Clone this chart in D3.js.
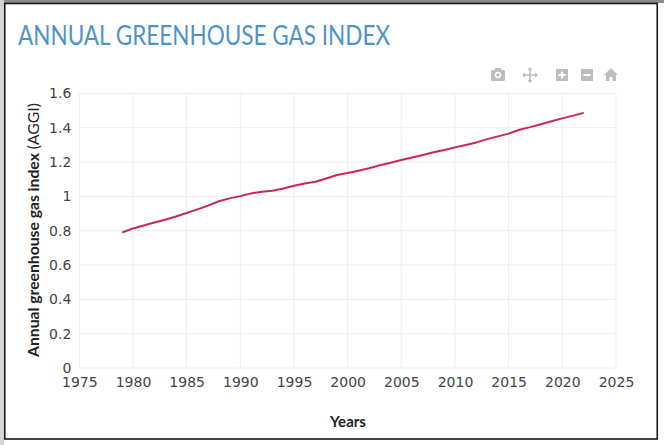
<!DOCTYPE html>
<html>
<head>
<meta charset="utf-8">
<script src="https://cdn.jsdelivr.net/npm/d3@7"></script>
<style>
  body { margin: 0; background: #fff; }
  svg { display: block; }
</style>
</head>
<body>
<svg id="chart" width="664" height="445"></svg>
<script>
// AGGI values
var years = [1979, 1980, 1981, 1982, 1983, 1984, 1985, 1986, 1987, 1988, 1989,
             1990, 1991, 1992, 1993, 1994, 1995, 1996, 1997, 1998, 1999,
             2000, 2001, 2002, 2003, 2004, 2005, 2006, 2007, 2008, 2009,
             2010, 2011, 2012, 2013, 2014, 2015, 2016, 2017, 2018, 2019,
             2020, 2021, 2022];
var aggi = [0.789, 0.813, 0.830, 0.847, 0.864, 0.882, 0.903, 0.924, 0.946, 0.971, 0.988,
            1.001, 1.017, 1.027, 1.033, 1.046, 1.061, 1.075, 1.085, 1.104, 1.124,
            1.136, 1.149, 1.163, 1.181, 1.196, 1.211, 1.226, 1.241, 1.257, 1.270,
            1.285, 1.299, 1.314, 1.333, 1.349, 1.365, 1.388, 1.403, 1.420, 1.437,
            1.454, 1.470, 1.486];
var xTicks = [1975, 1980, 1985, 1990, 1995, 2000, 2005, 2010, 2015, 2020, 2025];
var yTicks = [0, 0.2, 0.4, 0.6, 0.8, 1, 1.2, 1.4, 1.6];

var title = "ANNUAL GREENHOUSE GAS INDEX";
var xTitle = "Years";
var yTitleBold = "Annual greenhouse gas index";
var yTitleRest = " (AGGI)";

var svg = d3.select("#chart");
var tickFont = "'DejaVu Sans', Verdana, sans-serif";
var labelFont = "Lato, 'Open Sans', sans-serif";

// frame round the picture
svg.append("rect").attr("x", 0).attr("y", 0).attr("width", 664).attr("height", 3).style("fill", "#8c8c8c");
svg.append("rect").attr("x", 0).attr("y", 0).attr("width", 4).attr("height", 445).style("fill", "#d6d6d6");
svg.append("rect")
  .attr("x", 4.75).attr("y", 3.5)
  .attr("width", 652.5).attr("height", 435.5)
  .style("fill", "#fff")
  .style("stroke", "#1a1a1a")
  .style("stroke-width", 1.6);

var titleText = svg.append("text")
  .attr("x", 18).attr("y", 45)
  .style("font-family", labelFont)
  .style("font-size", "26px")
  .style("fill", "#4f94c8")
  .text(title);
titleText.attr("textLength", 372).attr("lengthAdjust", "spacingAndGlyphs");

var x = d3.scaleLinear().domain([1975, 2025]).range([79.3, 616]);
var y = d3.scaleLinear().domain([0, 1.6]).range([368, 93.3]);

// grid
var grid = svg.append("g");
grid.selectAll(".vgrid").data(xTicks).enter().append("line")
  .attr("x1", function (d) { return x(d); })
  .attr("x2", function (d) { return x(d); })
  .attr("y1", y(0)).attr("y2", y(1.6))
  .style("stroke", "#eeeeee").style("stroke-width", 1);
grid.selectAll(".hgrid").data(yTicks).enter().append("line")
  .attr("x1", x(1975)).attr("x2", x(2025))
  .attr("y1", function (d) { return y(d); })
  .attr("y2", function (d) { return y(d); })
  .style("stroke", "#eeeeee").style("stroke-width", 1);

// axes, only the labels are kept
var xAxis = svg.append("g")
  .attr("transform", "translate(0," + y(0) + ")")
  .call(d3.axisBottom(x).tickValues(xTicks).tickFormat(d3.format("d")).tickSize(0).tickPadding(9));
var yAxis = svg.append("g")
  .attr("transform", "translate(" + x(1975) + ",0)")
  .call(d3.axisLeft(y).tickValues(yTicks).tickFormat(function (d) { return String(d); }).tickSize(0).tickPadding(8));

[xAxis, yAxis].forEach(function (a) {
  a.select(".domain").remove();
  a.selectAll("text")
    .style("font-family", tickFont)
    .style("font-size", "14px")
    .style("fill", "#444");
});
yAxis.selectAll("text").attr("dy", "0.32em");

// series
var line = d3.line()
  .x(function (d, i) { return x(years[i]); })
  .y(function (d) { return y(d); });

svg.append("path")
  .datum(aggi)
  .attr("d", line)
  .style("fill", "none")
  .style("stroke", "#c8265c")
  .style("stroke-width", 2)
  .style("stroke-linejoin", "round");

// axis titles
svg.append("text")
  .attr("x", 348).attr("y", 427)
  .attr("text-anchor", "middle")
  .style("font-family", labelFont)
  .style("font-size", "15px")
  .style("font-weight", "bold")
  .style("fill", "#222")
  .text(xTitle);

var yt = svg.append("text")
  .attr("transform", "translate(39,230) rotate(-90)")
  .attr("text-anchor", "middle")
  .style("font-family", labelFont)
  .style("font-size", "15px")
  .style("fill", "#222");
yt.append("tspan").style("font-weight", "bold").text(yTitleBold);
yt.append("tspan").text(yTitleRest);
// fit the rotated title to its length in the reference
var ytLen = yt.node().getComputedTextLength();
yt.style("font-size", (15 * 254 / ytLen) + "px");

// mode bar icons
var icons = svg.append("g").style("fill", "#bdbdbd");
var cam = icons.append("g").attr("transform", "translate(498,75)");
cam.append("rect").attr("x", -7).attr("y", -5).attr("width", 14).attr("height", 11).attr("rx", 1.5);
cam.append("rect").attr("x", -3).attr("y", -7).attr("width", 6).attr("height", 3);
cam.append("circle").attr("r", 3.2).style("fill", "#fff");
cam.append("circle").attr("r", 1.8);

var mv = icons.append("g").attr("transform", "translate(530,75)");
mv.append("rect").attr("x", -7).attr("y", -0.75).attr("width", 14).attr("height", 1.5);
mv.append("rect").attr("x", -0.75).attr("y", -7).attr("width", 1.5).attr("height", 14);
mv.append("path").attr("d", "M-8,0 L-5,-2.5 L-5,2.5Z M8,0 L5,-2.5 L5,2.5Z M0,-8 L-2.5,-5 L2.5,-5Z M0,8 L-2.5,5 L2.5,5Z");

var pl = icons.append("g").attr("transform", "translate(562,75)");
pl.append("rect").attr("x", -6).attr("y", -6).attr("width", 12).attr("height", 12);
pl.append("rect").attr("x", -3.5).attr("y", -1).attr("width", 7).attr("height", 2).style("fill", "#fff");
pl.append("rect").attr("x", -1).attr("y", -3.5).attr("width", 2).attr("height", 7).style("fill", "#fff");

var mn = icons.append("g").attr("transform", "translate(587,75)");
mn.append("rect").attr("x", -6).attr("y", -6).attr("width", 12).attr("height", 12);
mn.append("rect").attr("x", -3.5).attr("y", -1).attr("width", 7).attr("height", 2).style("fill", "#fff");

var hm = icons.append("g").attr("transform", "translate(611,75)");
hm.append("path").attr("d", "M0,-7 L7,0 L5,0 L5,6 L1.5,6 L1.5,2 L-1.5,2 L-1.5,6 L-5,6 L-5,0 L-7,0Z");
</script>
</body>
</html>
